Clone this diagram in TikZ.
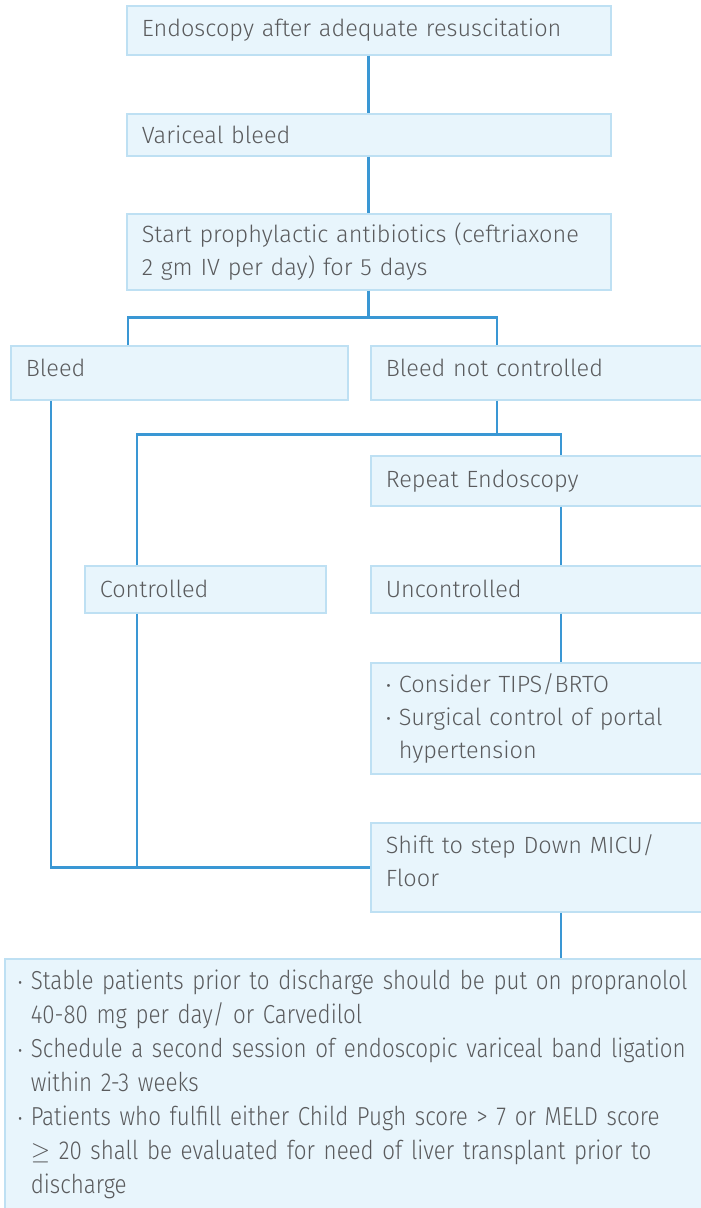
\documentclass[tikz,border=0pt]{standalone}
\usepackage{fontspec}
\setmainfont{Fira Sans Light}
\newfontfamily\condfont{Fira Sans Light}[FakeStretch=0.86]
\usetikzlibrary{positioning}

\definecolor{boxfill}{HTML}{E8F5FC}
\definecolor{boxline}{HTML}{BEE0F3}
\definecolor{linkblue}{HTML}{3A97D4}
\definecolor{txtgrey}{HTML}{5A5B5D}

\newcommand{\mainsize}{\fontsize{23.5}{33}\selectfont}
\newcommand{\advsize}{\condfont\fontsize{26}{34}\selectfont}
\newcommand{\bitem}{\hangindent=13pt\hangafter=1\noindent\makebox[13pt][l]{\fontsize{19}{19}\selectfont\textbullet}}

\tikzset{
  box/.style={draw=boxline, fill=boxfill, line width=1.6pt, anchor=north west,
    inner xsep=15pt, inner ysep=4pt, align=left, text=txtgrey, font=\mainsize},
  link/.style={draw=linkblue, line width=2.8pt},
}

\begin{document}
\begin{tikzpicture}[x=1pt,y=-1pt]
  \useasboundingbox (0,0) rectangle (701,1208);
  \clip (0,0) rectangle (701,1208);

  \node[box, text width=454pt, minimum height=49pt] (endo) at (126,5) {Endoscopy after adequate resuscitation};
  \node[box, text width=454pt, minimum height=42pt] (varix) at (126,113) {Variceal bleed};
  \node[box, text width=454pt, minimum height=76pt] (abx) at (126,213) {Start prophylactic antibiotics (ceftriaxone\\2 gm IV per day) for 5 days};

  \node[box, text width=307pt, minimum height=54pt] (bleed) at (10,345) {Bleed\rule[-10pt]{0pt}{10pt}};
  \node[box, text width=330pt, minimum height=54pt] (bnc) at (370,345) {Bleed not controlled\rule[-10pt]{0pt}{10pt}};
  \node[box, text width=330pt, minimum height=50pt] (repeat) at (370,455) {Repeat Endoscopy};
  \node[box, text width=211pt, minimum height=47pt] (ctrl) at (84,565) {Controlled};
  \node[box, text width=330pt, minimum height=47pt] (unctrl) at (370,565) {Uncontrolled};
  \node[box, text width=330pt, minimum height=111pt] (tips) at (370,662)
    {\bitem Consider TIPS/BRTO\par\bitem Surgical control of portal\newline hypertension\par};
  \node[box, text width=330pt, minimum height=89pt] (shift) at (370,822)
    {Shift to step Down MICU/\\Floor\rule[-14pt]{0pt}{14pt}};
  \node[box, text width=690pt, inner xsep=13pt, inner ysep=11pt, font=\advsize] (advice) at (4,958)
    {\bitem Stable patients prior to discharge should be put on propranolol\newline 40-80 mg per day/ or Carvedilol\par
     \bitem Schedule a second session of endoscopic variceal band ligation\newline within 2-3 weeks\par
     \bitem Patients who fulfill either Child Pugh score > 7 or MELD score\newline $\geq$ 20 shall be evaluated for need of liver transplant prior to\newline discharge\rule[-20pt]{0pt}{20pt}\par};

  \draw[link] (endo.south) -- (varix.north);
  \draw[link] (varix.south) -- (abx.north);
  \draw[link] (abx.south) -- ++(0,27) coordinate (fork1);
  \draw[link] ([xshift=118pt]bleed.north west) |- (fork1) -| ([xshift=127pt]bnc.north west);
  \draw[link] ([xshift=127pt]bnc.south west) -- ++(0,34) coordinate (fork2);
  \draw[link] ([xshift=53pt]ctrl.north west) |- (fork2) -| ([xshift=191pt]repeat.north west);
  \draw[link] ([xshift=191pt]repeat.south west) -- ([xshift=191pt]unctrl.north west);
  \draw[link] ([xshift=191pt]unctrl.south west) -- ([xshift=191pt]tips.north west);
  \draw[link] ([xshift=41pt]bleed.south west) |- (shift.west);
  \draw[link] ([xshift=53pt]ctrl.south west) -- ([xshift=53pt]ctrl.south west |- shift.west);
  \draw[link] ([xshift=191pt]shift.south west) -- ([xshift=191pt]shift.south west |- advice.north);
\end{tikzpicture}
\end{document}
